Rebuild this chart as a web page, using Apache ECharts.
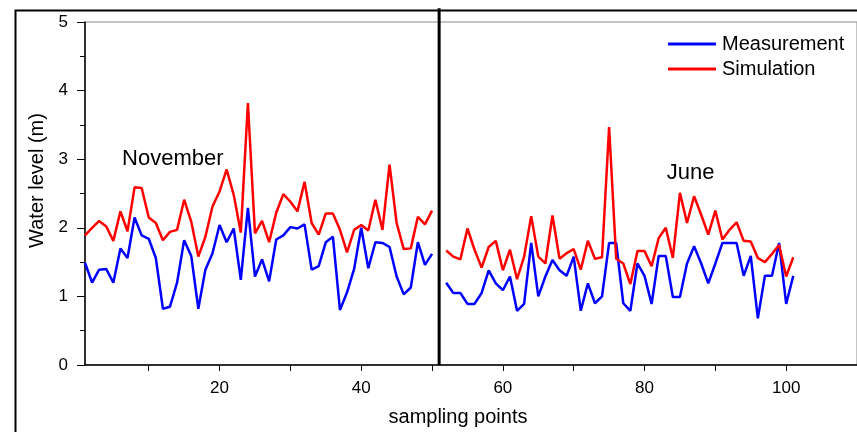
<!DOCTYPE html>
<html>
<head>
<meta charset="utf-8">
<script src="https://cdn.jsdelivr.net/npm/echarts@6/dist/echarts.min.js"></script>
<style>
  html, body { margin: 0; padding: 0; background: #fff; }
  #chart { width: 857px; height: 432px; }
</style>
</head>
<body>
<div id="chart"></div>
<script>
  // sampling points 1-50 (November) and 52-101 (June)
  var novStart = 1
  var junStart = 52

  var novMeasured = [1.49, 1.20, 1.39, 1.40, 1.20, 1.70, 1.56, 2.15, 1.89, 1.84,
    1.56, 0.82, 0.85, 1.20, 1.82, 1.59, 0.82, 1.39, 1.63, 2.04,
    1.79, 1.99, 1.24, 2.29, 1.29, 1.54, 1.22, 1.83, 1.89, 2.01,
    1.99, 2.05, 1.39, 1.44, 1.79, 1.87, 0.80, 1.06, 1.40, 2.00,
    1.41, 1.79, 1.78, 1.72, 1.29, 1.03, 1.13, 1.79, 1.46, 1.62]
  var novSimulated = [1.89, 2.00, 2.10, 2.02, 1.81, 2.24, 1.95, 2.59, 2.58, 2.15,
    2.07, 1.82, 1.94, 1.97, 2.41, 2.09, 1.58, 1.87, 2.31, 2.53,
    2.85, 2.48, 1.93, 3.82, 1.92, 2.10, 1.79, 2.22, 2.49, 2.38,
    2.24, 2.67, 2.07, 1.90, 2.21, 2.21, 1.97, 1.64, 1.97, 2.04,
    1.96, 2.41, 1.97, 2.92, 2.07, 1.69, 1.70, 2.16, 2.05, 2.25]
  var junMeasured = [1.20, 1.05, 1.05, 0.89, 0.89, 1.05, 1.38, 1.19, 1.09, 1.29,
    0.79, 0.89, 1.78, 1.00, 1.29, 1.53, 1.38, 1.30, 1.58, 0.79,
    1.19, 0.90, 1.00, 1.78, 1.78, 0.90, 0.79, 1.48, 1.30, 0.89,
    1.59, 1.59, 0.99, 0.99, 1.48, 1.73, 1.48, 1.19, 1.48, 1.78,
    1.78, 1.78, 1.30, 1.59, 0.68, 1.30, 1.30, 1.78, 0.89, 1.30]
  var junSimulated = [1.67, 1.58, 1.54, 1.99, 1.68, 1.42, 1.72, 1.81, 1.38, 1.68,
    1.25, 1.58, 2.17, 1.58, 1.48, 2.18, 1.55, 1.63, 1.69, 1.39,
    1.81, 1.55, 1.57, 3.47, 1.55, 1.48, 1.18, 1.66, 1.66, 1.44,
    1.85, 2.00, 1.56, 2.51, 2.07, 2.46, 2.19, 1.90, 2.25, 1.83,
    1.97, 2.08, 1.81, 1.80, 1.56, 1.50, 1.62, 1.75, 1.29, 1.57]

  var xLabels = [20, 40, 60, 80, 100]
  var xTicks = [10, 20, 30, 40, 50, 60, 70, 80, 90, 100]
  // thick divider between the two campaigns
  var separator = [[51, 0], [51, 5.2]]

  function toPairs(start, values) {
    return values.map(function (v, i) { return [start + i, v] })
  }

  var font = "'Liberation Sans', Arial, sans-serif"

  var chart = echarts.init(document.getElementById("chart"))

  chart.setOption({
    animation: false,
    textStyle: { fontFamily: font },
    grid: {
      left: 85, top: 22, right: -5, bottom: 67,
      show: true, borderColor: "#8a8a8a", borderWidth: 1
    },
    legend: {
      orient: "vertical",
      left: 668, top: 34,
      padding: 0,
      icon: "rect",
      itemWidth: 48, itemHeight: 3, itemGap: 5,
      textStyle: { fontFamily: font, fontSize: 20, color: "#000", padding: [0, 0, 0, 1] },
      data: ["Measurement", "Simulation"]
    },
    xAxis: {
      type: "value",
      min: 1, max: 110,
      name: "sampling points",
      nameLocation: "middle",
      nameGap: 42,
      nameTextStyle: { fontSize: 20, color: "#000", padding: [0, 26, 0, 0] },
      axisLine: { lineStyle: { color: "#000", width: 1.5 } },
      axisTick: { customValues: xTicks, length: 6, lineStyle: { color: "#000" } },
      axisLabel: { customValues: xLabels, fontSize: 17, color: "#000", margin: 15 },
      splitLine: { show: false }
    },
    yAxis: {
      type: "value",
      min: 0, max: 5, interval: 1,
      name: "Water level (m)",
      nameLocation: "middle",
      nameGap: 38,
      nameTextStyle: { fontSize: 20, color: "#000", padding: [0, 0, 0, 26] },
      axisLine: { show: true, lineStyle: { color: "#000", width: 1.5 } },
      axisTick: { length: 8, lineStyle: { color: "#000" } },
      minorTick: { show: true, splitNumber: 2, length: 5, lineStyle: { color: "#000" } },
      axisLabel: { fontSize: 17, color: "#000", margin: 17 },
      splitLine: { show: false }
    },
    graphic: [{
      type: "rect",
      left: 13, top: 8,
      shape: { width: 900, height: 500 },
      style: { fill: "none", stroke: "#000", lineWidth: 2 },
      silent: true
    }],
    series: [
      {
        name: "Measurement", type: "line", symbol: "none",
        color: "#0000ff", lineStyle: { width: 2.5 },
        data: toPairs(novStart, novMeasured)
      },
      {
        name: "Measurement", type: "line", symbol: "none",
        color: "#0000ff", lineStyle: { width: 2.5 },
        data: toPairs(junStart, junMeasured)
      },
      {
        name: "Simulation", type: "line", symbol: "none",
        color: "#ff0000", lineStyle: { width: 2.5 },
        data: toPairs(novStart, novSimulated),
        markPoint: {
          symbolSize: 0,
          label: { show: true, fontSize: 22, color: "#000", fontFamily: font, formatter: "{b}" },
          data: [
            { name: "November", coord: [13.4, 3.0] },
            { name: "June", coord: [86.5, 2.8] }
          ]
        }
      },
      {
        name: "Simulation", type: "line", symbol: "none",
        color: "#ff0000", lineStyle: { width: 2.5 },
        data: toPairs(junStart, junSimulated)
      },
      {
        name: "divider", type: "line", symbol: "none",
        clip: false, silent: true,
        color: "#000", lineStyle: { width: 3 },
        data: separator
      }
    ]
  })
</script>
</body>
</html>
